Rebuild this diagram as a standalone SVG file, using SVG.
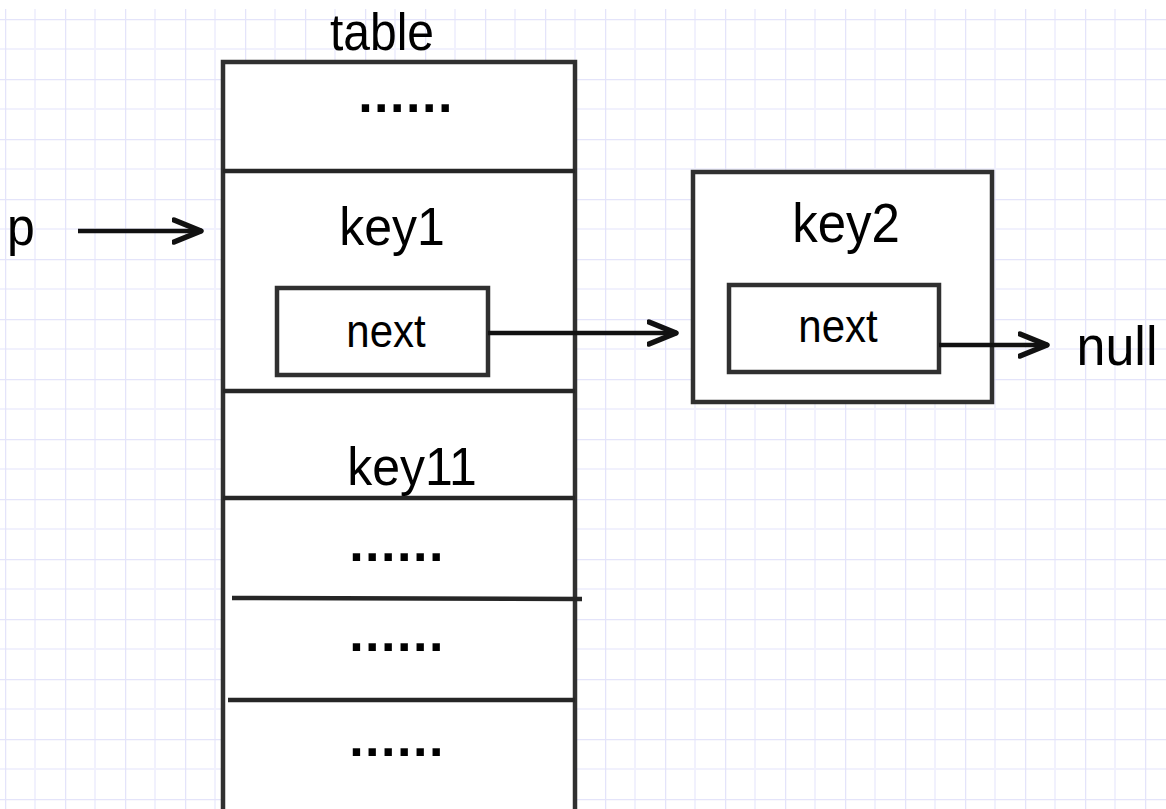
<svg xmlns="http://www.w3.org/2000/svg" width="1166" height="809" viewBox="0 0 1166 809">
  <defs>
    <!-- graph-paper background: minor lines every 30px, major every 60px -->
    <pattern id="grid" patternUnits="userSpaceOnUse" x="5" y="19" width="60" height="60">
      <rect width="60" height="60" fill="#ffffff"/>
      <path d="M30 0V60M0 30H60" stroke="#f1f1fd" stroke-width="2" fill="none"/>
      <path d="M0 0V60M0 0H60" stroke="#e4e4fa" stroke-width="2.5" fill="none"/>
    </pattern>
    <marker id="chev" markerUnits="userSpaceOnUse" markerWidth="40" markerHeight="40" refX="30" refY="20" orient="auto">
      <path d="M2 9L29 20L2 31" fill="none" stroke="#111" stroke-width="5.5" stroke-linecap="round" stroke-linejoin="round"/>
    </marker>
  </defs>
  <style>
    .box { fill: #ffffff; stroke: #303030; stroke-width: 4.5; }
    .sep { stroke: #262626; stroke-width: 4.5; fill: none; }
    .lbl { font-family: "Liberation Sans", Arial, sans-serif; fill: #000; text-anchor: middle; }
    .dots { font-family: "Liberation Sans", Arial, sans-serif; font-size: 52px; font-weight: bold; letter-spacing: 1.5px; fill: #000; text-anchor: middle; }
    .link { stroke: #111; stroke-width: 4.5; fill: none; marker-end: url(#chev); }
  </style>

  <rect x="0" y="0" width="1166" height="809" fill="#ffffff"/>
  <rect x="0" y="9" width="1166" height="800" fill="url(#grid)"/>

  <!-- bucket array -->
  <g id="table">
    <g transform="translate(382,50) scale(1,1.08)"><text class="lbl" font-size="48">table</text></g>
    <rect class="box" x="223" y="62" width="352" height="780"/>
    <line class="sep" x1="223" y1="171" x2="575" y2="171"/>
    <line class="sep" x1="223" y1="391" x2="575" y2="391"/>
    <line class="sep" x1="223" y1="498" x2="575" y2="498"/>
    <line class="sep" x1="232" y1="598" x2="582" y2="599"/>
    <line class="sep" x1="228" y1="700" x2="575" y2="700"/>
    <text class="dots" x="406" y="112">......</text>
    <text class="dots" x="397" y="561">......</text>
    <text class="dots" x="397" y="651">......</text>
    <text class="dots" x="397" y="756">......</text>
    <g transform="translate(412,485) scale(1,1.08)"><text class="lbl" font-size="50">key11</text></g>
  </g>

  <g id="entry-key1">
    <g transform="translate(392,245) scale(1,1.08)"><text class="lbl" font-size="50">key1</text></g>
    <rect class="box" x="277" y="288" width="211" height="87"/>
    <g transform="translate(386,347) scale(1,1.08)"><text class="lbl" font-size="42">next</text></g>
  </g>

  <g id="entry-key2">
    <rect class="box" x="693" y="172" width="299" height="230"/>
    <g transform="translate(846,242) scale(1,1.08)"><text class="lbl" font-size="51">key2</text></g>
    <rect class="box" x="729" y="285" width="210" height="87"/>
    <g transform="translate(838,342) scale(1,1.08)"><text class="lbl" font-size="42">next</text></g>
  </g>

  <g id="label-p">
    <g transform="translate(21,245) scale(1,1.08)"><text class="lbl" font-size="50">p</text></g>
  </g>

  <g id="label-null">
    <g transform="translate(1117,365) scale(1,1.08)"><text class="lbl" font-size="52">null</text></g>
  </g>

  <g id="connectors">
    <line class="link" x1="78" y1="231" x2="202" y2="231"/>
    <line class="link" x1="488" y1="333" x2="677" y2="333"/>
    <line class="link" x1="939" y1="345" x2="1048" y2="345"/>
  </g>
</svg>
